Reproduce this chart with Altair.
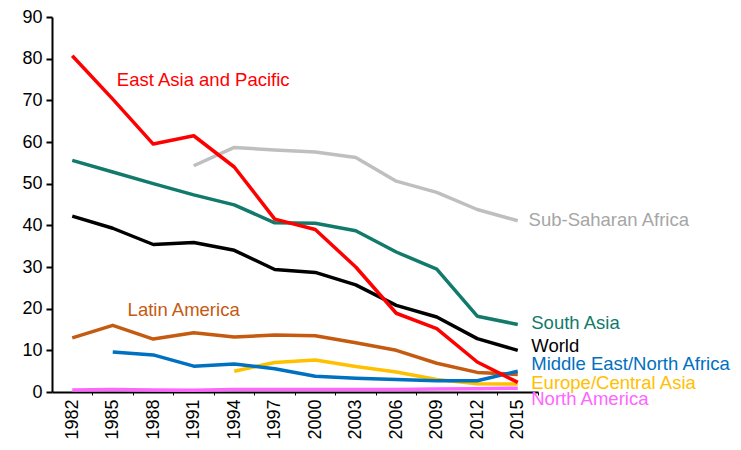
import altair as alt
import pandas as pd

years = [1982, 1985, 1988, 1991, 1994, 1997, 2000, 2003, 2006, 2009, 2012, 2015]

east_asia = [80.7, 70.3, 59.5, 61.5, 54.0, 41.5, 39.0, 30.0, 18.9, 15.2, 7.2, 2.3]
sub_saharan = [None, None, None, 54.3, 58.7, 58.1, 57.6, 56.3, 50.6, 47.9, 43.8, 41.1]
south_asia = [55.6, 52.8, 50.0, 47.3, 44.9, 40.6, 40.5, 38.7, 33.6, 29.5, 18.2, 16.2]
world = [42.2, 39.3, 35.4, 35.9, 34.0, 29.4, 28.7, 25.7, 20.8, 18.0, 12.8, 10.0]
latin_america = [13.0, 16.0, 12.7, 14.2, 13.2, 13.7, 13.5, 11.8, 10.0, 6.9, 4.7, 4.2]
mena = [None, 9.6, 8.9, 6.2, 6.7, 5.6, 3.8, 3.3, 3.0, 2.7, 2.7, 5.0]
europe_ca = [None, None, None, None, 5.0, 7.1, 7.7, 6.1, 4.8, 3.0, 2.0, 1.9]
north_america = [0.5, 0.6, 0.5, 0.4, 0.6, 0.6, 0.6, 0.6, 0.6, 0.7, 0.8, 0.9]

series_names = ["Sub-Saharan Africa", "South Asia", "World", "Latin America",
                "Europe/Central Asia", "Middle East/North Africa", "North America",
                "East Asia and Pacific"]
series_values = [sub_saharan, south_asia, world, latin_america, europe_ca, mena,
                 north_america, east_asia]
series_colors = ["#BFBFBF", "#117A6B", "#000000", "#C55A11", "#FFC000", "#0070C0",
                 "#FF66FF", "#FF0000"]

label_names = ["East Asia and Pacific", "Latin America", "Sub-Saharan Africa",
               "South Asia", "World", "Middle East/North Africa",
               "Europe/Central Asia", "North America"]
label_x = [1985.3, 1986.1, 2015.8, 2016.0, 2016.0, 2016.0, 2016.0, 2016.0]
label_y = [75.0, 19.8, 41.3, 16.5, 11.0, 6.7, 2.2, -1.7]
label_colors = ["#FF0000", "#C55A11", "#A6A6A6", "#117A6B", "#000000", "#0070C0",
                "#FFC000", "#FF66FF"]

rows = []
for name, vals in zip(series_names, series_values):
    for yr, v in zip(years, vals):
        if v is not None:
            rows.append({"series": name, "year": yr, "value": v})
df = pd.DataFrame(rows)

labels = pd.DataFrame({"label": label_names, "x": label_x, "y": label_y,
                       "color": label_colors})

FONT = "Liberation Sans"

xscale = alt.Scale(domain=[1980.5, 2016.5], nice=False, zero=False)
yscale = alt.Scale(domain=[0, 90], nice=False)

lines = alt.Chart(df).mark_line(strokeWidth=3.5, strokeJoin="round").encode(
    x=alt.X("year:Q", scale=xscale, title=None,
            axis=alt.Axis(values=years, format="d", labelAngle=-90, labelAlign="right",
                          labelBaseline="middle", labelFontSize=18, labelFont=FONT,
                          labelColor="#000000", tickOffset=20.2, labelOffset=-20.2,
                          tickSize=3, tickWidth=1, tickColor="#000000",
                          domainColor="#000000", domainWidth=2, labelPadding=4,
                          grid=False, labelFlush=False, labelOverlap=False)),
    y=alt.Y("value:Q", scale=yscale, title=None,
            axis=alt.Axis(values=list(range(0, 91, 10)), labelFontSize=18, labelFont=FONT,
                          labelColor="#000000", tickSize=6, tickWidth=2,
                          tickColor="#000000", domainColor="#000000", domainWidth=2,
                          labelPadding=4, grid=False)),
    color=alt.Color("series:N", scale=alt.Scale(domain=series_names, range=series_colors),
                    legend=None),
    order=alt.Order("year:Q"),
)

texts = alt.Chart(labels).mark_text(align="left", baseline="middle", fontSize=18.5,
                                     font=FONT).encode(
    x=alt.X("x:Q", scale=xscale),
    y=alt.Y("y:Q", scale=yscale),
    text="label:N",
    color=alt.Color("color:N", scale=None),
)

chart = alt.layer(lines, texts).properties(
    width=486, height=375,
    autosize=alt.AutoSizeParams(type="none"),
    padding={"left": 44, "top": 9, "right": 195, "bottom": 50},
).configure_view(stroke=None)

chart.save("out.html", embed_options={"renderer": "svg", "actions": False})
